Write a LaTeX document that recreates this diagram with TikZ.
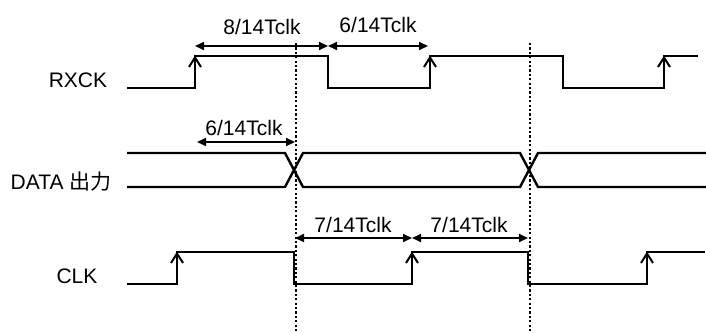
\documentclass[tikz,border=0pt]{standalone}
\usepackage{fontspec}
\setmainfont{Liberation Sans}
\newfontfamily\cjk{Noto Sans CJK SC}
\usetikzlibrary{arrows.meta}
\begin{document}
\begin{tikzpicture}[x=1pt,y=-1pt,
  sig/.style={line width=2.4pt, line join=miter},
  dimline/.style={line width=1.9pt, {Triangle[length=9pt,width=8pt]}-{Triangle[length=9pt,width=8pt]}},
  dotl/.style={line width=2.4pt, dash pattern=on 2.2pt off 2.2pt},
  lbl/.style={font=\fontsize{21}{24}\selectfont, inner sep=0pt},
  risemark/.pic={\draw[line width=2pt] (-6,11) -- (0,1.5) -- (6,11);}]
\useasboundingbox (0,0) rectangle (706,332);
% labels
\node[lbl] (rxck) at (78,80) {RXCK};
\node[lbl] (data) at (61,182) {DATA {\cjk 出力}};
\node[lbl] (clk) at (77,276) {CLK};
% dotted reference lines
\coordinate (d1t) at (296,43); \coordinate (d1b) at (296,332);
\coordinate (d2t) at (530,43); \coordinate (d2b) at (530,332);
\draw[dotl] (d1t) -- (d1b);
\draw[dotl] (d2t) -- (d2b);
% RXCK
\draw[sig] (127,88) -| (195,56) -| (328,88) -| (430,56) -| (563,88) -| (664,56) -- (698,56);
\pic at (195,56) {risemark};
\pic at (430,56) {risemark};
\pic at (664,56) {risemark};
% DATA
\draw[sig] (127,153) -- (285,153) -- (303,187) -- (520,187) -- (538,153) -- (706,153);
\draw[sig] (127,187) -- (285,187) -- (303,153) -- (520,153) -- (538,187) -- (706,187);
% CLK
\draw[sig] (127,284) -| (177,252) -| (294,284) -| (412,252) -| (528,284) -| (647,252) -- (705,252);
\pic at (177,252) {risemark};
\pic at (412,252) {risemark};
\pic at (647,252) {risemark};
% dimensions
\coordinate (a1) at (195,46); \coordinate (a2) at (328,46); \coordinate (a3) at (428,46);
\draw[dimline] (a1) -- (a2);
\draw[dimline] (a2) -- (a3);
\node[lbl] (t1) at (262,27) {8/14Tclk};
\node[lbl] (t2) at (378,25) {6/14Tclk};
\coordinate (b1) at (197,142); \coordinate (b2) at (295,142);
\draw[dimline] (b1) -- (b2);
\node[lbl] (t3) at (244,128) {6/14Tclk};
\coordinate (c1) at (295,238); \coordinate (c2) at (412,238); \coordinate (c3) at (528,238);
\draw[dimline] (c1) -- (c2);
\draw[dimline] (c2) -- (c3);
\node[lbl] (t4) at (353,225) {7/14Tclk};
\node[lbl] (t5) at (469,225) {7/14Tclk};
\end{tikzpicture}
\end{document}
